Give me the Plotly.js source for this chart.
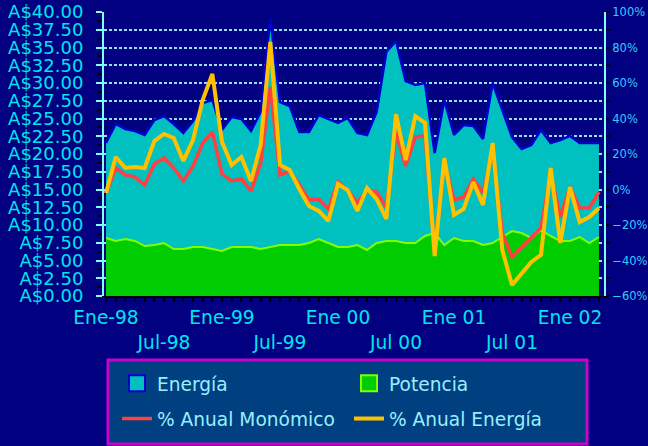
<!DOCTYPE html>
<html>
<head>
<meta charset="utf-8">
<script src="https://cdn.plot.ly/plotly-3.0.1.min.js"></script>
<style>
  html, body { margin: 0; padding: 0; background: #000080; }
  #chart { width: 648px; height: 446px; }
</style>
</head>
<body>
<div id="chart"></div>
<script>
// Monthly categories Jan-98 .. Apr-02
const meses = ['Ene','Feb','Mar','Abr','May','Jun','Jul','Ago','Sep','Oct','Nov','Dic'];
const anios = ['98','99','00','01','02'];
const months = [];
anios.forEach(a => meses.forEach(m => { if (months.length < 52) months.push(m + '-' + a); }));

// Axis tick labels
const eneCats = ['Ene-98','Ene-99','Ene-00','Ene-01','Ene-02'];
const eneText = ['Ene-98','Ene-99','Ene 00','Ene 01','Ene 02'];
const julCats = ['Jul-98','Jul-99','Jul-00','Jul-01'];
const julText = ['Jul-98','Jul-99','Jul 00','Jul 01'];

// A$ values (stacked areas)
const potencia = [8.17,7.75,8.03,7.75,7.04,7.18,7.46,6.62,6.62,6.90,6.90,6.62,6.34,6.90,6.90,6.90,6.62,6.90,7.18,7.18,
  7.18,7.46,8.03,7.46,6.90,6.90,7.18,6.48,7.46,7.75,7.75,7.46,7.46,8.45,8.87,7.18,8.17,7.75,7.75,7.18,
  7.46,8.31,9.15,8.87,8.17,9.30,8.45,7.75,7.75,8.31,7.46,8.31];
const energia = [13.38,16.48,15.49,15.49,15.64,17.61,17.89,17.61,16.34,17.75,20.28,20.99,17.04,18.31,18.03,16.34,19.30,32.25,20.14,19.58,
  15.92,15.64,17.46,17.47,17.47,18.17,15.78,16.20,18.46,26.62,28.17,22.82,22.26,21.55,11.27,20.43,14.51,16.33,16.19,14.93,
  22.54,17.89,13.24,11.83,13.10,14.08,13.10,14.22,14.79,13.24,14.09,13.24];

// Annual % change (right axis)
const pctMonomico = [-2.0,12.1,8.2,7.0,2.5,14.4,17.7,12.1,4.8,13.2,26.2,32.4,8.7,4.8,5.9,-0.8,14.9,57.7,8.2,10.4,
  2.5,-5.9,-5.4,-11.0,4.2,-0.3,-7.6,-0.3,-1.4,-9.9,32.4,13.2,29.6,30.1,-34.1,15.5,-5.9,-4.2,5.9,-2.0,
  22.3,-24.5,-38.0,-32.4,-27.3,-21.7,9.3,-15.5,1.4,-10.4,-10.4,-1.4];
const pctEnergia = [-2.0,18.3,12.1,12.7,12.1,27.3,31.3,29.0,16.1,27.9,50.4,65.1,26.8,13.8,18.3,4.8,25.1,83.1,13.8,11.0,
  0.3,-9.3,-12.1,-17.7,3.1,-0.3,-12.1,0.8,-5.4,-16.6,42.5,16.6,41.4,37.5,-37.5,17.7,-14.4,-11.0,4.2,-8.7,
  26.2,-34.1,-53.8,-47.0,-40.8,-36.9,12.1,-30.1,1.4,-18.3,-15.5,-10.4];

const FONT = 'DejaVu Sans, Verdana, sans-serif';
const XR = [-0.21, 51.52];

// One tick per month; Ene labels on first row, Jul labels on second row
const monthTickText = months.map(m => {
  const e = eneCats.indexOf(m);
  if (e >= 0) return eneText[e];
  const j = julCats.indexOf(m);
  if (j >= 0) return '<br>' + julText[j];
  return '';
});

const traces = [
  { x: months, y: potencia, name: 'Potencia', type: 'scatter', mode: 'lines', stackgroup: 'one',
    fillcolor: '#00CC00', line: { color: '#80FF00', width: 2 }, showlegend: false },
  { x: months, y: energia, name: 'Energía', type: 'scatter', mode: 'lines', stackgroup: 'one',
    fillcolor: '#00C0C0', line: { color: '#0000CC', width: 2.5 }, showlegend: false },
  { x: months, y: pctMonomico, name: '% Anual Monómico', type: 'scatter', mode: 'lines', yaxis: 'y2',
    line: { color: '#FF4040', width: 3.5 }, legend: 'legend2', legendrank: 1 },
  { x: months, y: pctEnergia, name: '% Anual Energía', type: 'scatter', mode: 'lines', yaxis: 'y2',
    line: { color: '#FFC000', width: 4 }, legend: 'legend2', legendrank: 2 },
  // legend swatches for the two areas
  { x: [null], y: [null], name: 'Energía', type: 'scatter', mode: 'markers',
    marker: { symbol: 'square', size: 16, color: '#00C0C0', line: { color: '#0000CC', width: 2 } },
    legend: 'legend', legendrank: 1 },
  { x: [null], y: [null], name: 'Potencia', type: 'scatter', mode: 'markers',
    marker: { symbol: 'square', size: 16, color: '#00CC00', line: { color: '#80FF00', width: 2 } },
    legend: 'legend', legendrank: 2 }
];

const legendCommon = {
  orientation: 'h', xanchor: 'left', yanchor: 'top', x: 0.026,
  bgcolor: 'rgba(0,0,0,0)', borderwidth: 0, traceorder: 'normal', itemsizing: 'trace',
  entrywidth: 187, entrywidthmode: 'pixels',
  font: { family: FONT, size: 18.6, color: '#99EEFF' }
};

const layout = {
  width: 648, height: 446,
  margin: { l: 104, r: 44, t: 12, b: 150, pad: 0, autoexpand: false },
  paper_bgcolor: '#000080', plot_bgcolor: '#000080',
  showlegend: true,
  legend: Object.assign({}, legendCommon, { y: -0.242 }),
  legend2: Object.assign({}, legendCommon, { y: -0.366 }),
  xaxis: {
    type: 'category', range: XR, tickmode: 'array', tickvals: months, ticktext: monthTickText,
    tickangle: 0, automargin: false,
    ticks: 'outside', ticklen: 4, tickwidth: 2, tickcolor: '#000000',
    showgrid: false, zeroline: false, showline: true, linecolor: '#000000', linewidth: 2,
    tickfont: { family: FONT, size: 18.6, color: '#00E5EE' }, ticklabelstandoff: 0
  },
  xaxis4: {
    overlaying: 'x', anchor: 'y', side: 'top', type: 'linear', range: XR, automargin: false,
    ticks: '', showticklabels: false, showgrid: false, zeroline: false,
    showline: true, linecolor: '#80FFFF', linewidth: 2
  },
  yaxis: {
    range: [0, 40], dtick: 2.5, tick0: 0, tickprefix: 'A$', tickformat: '.2f', automargin: false,
    tickfont: { family: FONT, size: 18, color: '#00E5EE' },
    ticks: 'outside', ticklen: 6, tickwidth: 2, tickcolor: '#80FFFF', ticklabelstandoff: 9,
    showline: true, linecolor: '#80FFFF', linewidth: 2,
    showgrid: true, gridcolor: '#8FE3FF', gridwidth: 2, griddash: '3px,2px', zeroline: false,
    minor: { dtick: 1.25, tick0: 0, ticks: 'outside', ticklen: 4, tickwidth: 2, tickcolor: '#000000', showgrid: false }
  },
  yaxis2: {
    overlaying: 'y', side: 'right', range: [-60, 100], dtick: 20, tick0: 0, ticksuffix: '%', automargin: false,
    tickfont: { family: FONT, size: 11.5, color: '#33CCFF' },
    ticks: 'outside', ticklen: 4, tickwidth: 2, tickcolor: '#000000', ticklabelstandoff: 0,
    showline: true, linecolor: '#80FFFF', linewidth: 2, showgrid: false, zeroline: false,
    minor: { dtick: 10, ticks: 'outside', ticklen: 4, tickwidth: 2, tickcolor: '#000000', showgrid: false }
  },
  shapes: [
    { type: 'rect', xref: 'paper', yref: 'paper', x0: 0.008, x1: 0.966, y0: -0.521, y1: -0.2254,
      fillcolor: '#004080', line: { color: '#CC00CC', width: 3 }, layer: 'above' }
  ]
};

Plotly.newPlot('chart', traces, layout, { displayModeBar: false, staticPlot: true });
</script>
</body>
</html>
